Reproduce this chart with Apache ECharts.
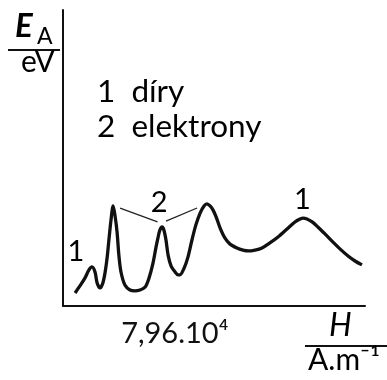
<!DOCTYPE html>
<html><head><meta charset="utf-8">
<script src="https://cdn.jsdelivr.net/npm/echarts@6/dist/echarts.min.js"></script>
<style>html,body{margin:0;padding:0;background:#fff}#c{width:387px;height:380px}</style>
</head><body><div id="c"></div>
<script>
// H (arbitrary units, axis 0..100) and E_A (arbitrary units, axis 0..100)
const hValues = [4.0,5.6,7.3,8.6,9.6,10.6,11.3,12.3,13.2,13.9,14.6,15.2,15.9,16.6,17.2,17.9,18.5,19.2,20.5,22.2,23.8,25.5,27.2,28.5,29.8,30.8,31.5,32.1,32.8,33.4,34.1,34.8,35.8,37.1,38.1,38.7,40.1,41.4,42.7,44.0,45.4,46.7,47.7,48.7,49.7,50.7,52.0,53.6,55.3,57.6,59.6,61.3,63.6,65.9,68.5,71.2,74.2,76.8,78.5,79.5,80.8,82.5,84.4,86.8,89.4,91.7,94.4,96.7,99.0];
const eValues = [4.4,6.8,9.5,12.2,13.2,11.5,7.8,6.1,7.8,11.1,16.2,22.3,29.1,33.8,30.7,25.0,17.2,11.5,7.1,5.4,5.1,5.4,6.4,9.5,14.5,19.9,23.3,25.7,26.7,25.7,22.3,17.2,13.5,11.5,10.5,10.5,12.8,16.6,22.3,27.4,31.4,33.8,34.5,33.8,32.4,30.1,26.4,23.0,20.9,19.6,18.9,18.6,18.9,19.6,21.3,23.3,26.0,28.4,29.4,29.7,29.4,28.4,26.7,24.3,21.6,19.3,16.9,15.2,13.9];
// peak labels
const peakLabels = ['1','2','1'];
const peakLabelH = [4.3,31.8,79.3];
const peakLabelE = [18.5,35.0,35.8];
// connector lines from peaks to label "2"
const connectors = [[[18.9,33.1],[31.3,28.4]],[[34.1,28.7],[44.4,33.1]]];
// x tick
const xTickValue = 37;
const xTickLabel = '7,96.10⁴';
const legendLines = ['1  díry','2  elektrony'];

const FONT = 'Lato';
const chart = echarts.init(document.getElementById('c'), null, {renderer:'canvas'});
const curve = hValues.map((h,i)=>[h,eValues[i]]);
chart.setOption({
  animation:false,
  backgroundColor:'#fff',
  grid:{left:63,top:10,right:22,bottom:74},
  xAxis:{type:'value',min:0,max:100,
    axisLine:{show:true,lineStyle:{color:'#111',width:2}},
    axisTick:{show:false},splitLine:{show:false},
    axisLabel:{show:true,customValues:[xTickValue],formatter:()=>xTickLabel,
      color:'#111',fontFamily:FONT,fontSize:29,margin:13}},
  yAxis:{type:'value',min:0,max:100,
    axisLine:{show:true,lineStyle:{color:'#111',width:2}},
    axisTick:{show:false},splitLine:{show:false},axisLabel:{show:false}},
  series:[
    {type:'line',data:curve,smooth:0.3,symbol:'none',
      lineStyle:{color:'#111',width:3.3},
      markLine:{silent:true,symbol:'none',label:{show:false},
        lineStyle:{color:'#222',width:1.3,type:'solid'},
        data:connectors.map(c=>[{coord:c[0]},{coord:c[1]}])}},
    {type:'scatter',symbolSize:0,itemStyle:{opacity:1},
      data:peakLabels.map((t,i)=>({value:[peakLabelH[i],peakLabelE[i]],name:t})),
      label:{show:true,position:'inside',formatter:p=>p.name,color:'#000',opacity:1,
        fontFamily:FONT,fontSize:29}}
  ],
  graphic:[
    {type:'text',left:97,top:76,style:{text:legendLines[0],fontFamily:FONT,fontSize:31.5,fill:'#000'}},
    {type:'text',left:97,top:111,style:{text:legendLines[1],fontFamily:FONT,fontSize:31.5,fill:'#000'}},
    {type:'text',left:15,top:10,style:{text:'E',fontFamily:FONT,fontStyle:'italic',fontWeight:'bold',fontSize:33,fill:'#000'}},
    {type:'text',left:37,top:25,style:{text:'A',fontFamily:FONT,fontSize:23,fill:'#000'}},
    {type:'line',shape:{x1:8,y1:50,x2:60,y2:50},style:{stroke:'#111',lineWidth:2}},
    {type:'text',left:21,top:47,style:{text:'eV',fontFamily:FONT,fontSize:30,fill:'#000'}},
    {type:'text',left:329,top:310,style:{text:'H',fontFamily:FONT,fontStyle:'italic',fontSize:32,fill:'#000'}},
    {type:'line',shape:{x1:305,y1:346,x2:387,y2:346},style:{stroke:'#111',lineWidth:2}},
    {type:'text',left:308,top:345,style:{text:'A.m⁻¹',fontFamily:FONT,fontSize:30,fill:'#000'}}
  ]
});
</script></body></html>
